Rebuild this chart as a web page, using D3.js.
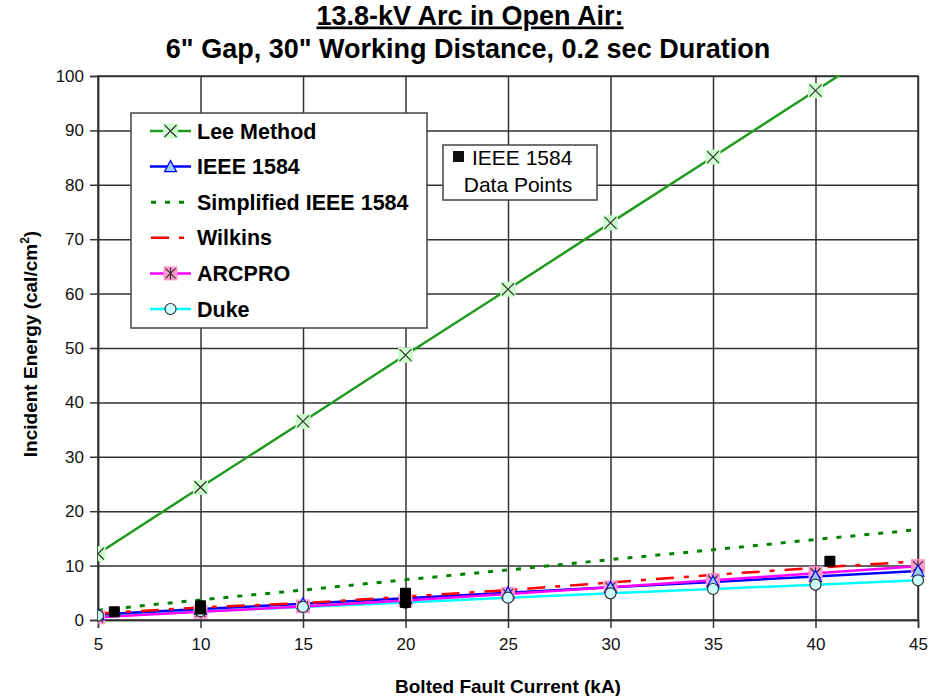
<!DOCTYPE html>
<html>
<head>
<meta charset="utf-8">
<script src="https://cdn.jsdelivr.net/npm/d3@7"></script>
<style>
  body { margin: 0; background: #fff; }
  text { font-family: Arial, "Liberation Sans", sans-serif; }
</style>
</head>
<body>
<svg></svg>
<script>
// fault current (kA)
const current = [5, 10, 15, 20, 25, 30, 35, 40, 45];

const leeMethod  = [12.2, 24.4, 36.5, 48.7, 60.8, 73.0, 85.1, 97.3, 109.5];
const ieee1584   = [1.0, 2.0, 3.0, 4.0, 5.0, 6.0, 7.0, 8.0, 9.0];
const simplified = [1.8, 3.7, 5.5, 7.4, 9.2, 11.1, 12.9, 14.8, 16.6];
const wilkins    = [1.2, 2.3, 3.1, 4.3, 5.5, 6.9, 8.3, 9.6, 10.8];
const arcpro     = [0.5, 1.5, 2.5, 3.6, 4.8, 6.0, 7.3, 8.6, 9.9];
const duke       = [0.8, 1.6, 2.4, 3.2, 4.1, 4.9, 5.7, 6.5, 7.3];

// measured data points
const pointsX = [5.8, 10.0, 10.0, 20.0, 20.0, 40.7];
const pointsY = [1.5, 2.6, 2.0, 4.9, 3.2, 10.8];

const xTicks = [5, 10, 15, 20, 25, 30, 35, 40, 45];
const yTicks = [0, 10, 20, 30, 40, 50, 60, 70, 80, 90, 100];

let width = 938;
let height = 696;
let mLeft = 98, mRight = 918, mTop = 76, mBottom = 620;

let svg = d3.select('svg').attr('width', width).attr('height', height);

let xScale = d3.scaleLinear().domain([5, 45]).range([mLeft, mRight]);
let yScale = d3.scaleLinear().domain([0, 100]).range([mBottom, mTop]);

const grid = '#333';
const narrow = '"Liberation Sans Narrow", "Arial Narrow", Arial, sans-serif';

// title
svg.append('text')
    .attr('x', 470).attr('y', 24.5)
    .attr('text-anchor', 'middle')
    .style('font-size', '27px').style('font-weight', 'bold')
    .style('font-family', narrow)
    .attr('text-decoration', 'underline')
    .text('13.8-kV Arc in Open Air:');
svg.append('text')
    .attr('x', 468).attr('y', 57.5)
    .attr('text-anchor', 'middle')
    .style('font-size', '27px').style('font-weight', 'bold')
    .style('font-family', narrow)
    .text('6" Gap, 30" Working Distance, 0.2 sec Duration');

// gridlines
svg.append('g')
    .attr('transform', 'translate(0,' + mBottom + ')')
    .call(d3.axisBottom(xScale).tickValues(xTicks).tickSize(-(mBottom - mTop)).tickFormat(''))
    .call(g => g.select('.domain').remove())
    .call(g => g.selectAll('line').attr('stroke', grid).attr('stroke-width', 1.5));
svg.append('g')
    .attr('transform', 'translate(' + mLeft + ',0)')
    .call(d3.axisLeft(yScale).tickValues(yTicks).tickSize(-(mRight - mLeft)).tickFormat(''))
    .call(g => g.select('.domain').remove())
    .call(g => g.selectAll('line').attr('stroke', grid).attr('stroke-width', 1.5));

// axes
let xAxis = svg.append('g')
    .attr('transform', 'translate(0,' + mBottom + ')')
    .call(d3.axisBottom(xScale).tickValues(xTicks).tickSize(8).tickPadding(10));
let yAxis = svg.append('g')
    .attr('transform', 'translate(' + mLeft + ',0)')
    .call(d3.axisLeft(yScale).tickValues(yTicks).tickSize(8).tickPadding(6));
[xAxis, yAxis].forEach(a => {
    a.selectAll('line').attr('stroke', grid).attr('stroke-width', 1.5);
    a.select('.domain').attr('stroke', grid).attr('stroke-width', 1.5);
    a.selectAll('text').style('font-size', '17px').attr('fill', '#111')
        .style('font-family', 'Arial, "Liberation Sans", sans-serif');
});
svg.append('rect')
    .attr('x', mLeft).attr('y', mTop)
    .attr('width', mRight - mLeft).attr('height', mBottom - mTop)
    .attr('fill', 'none').attr('stroke', grid).attr('stroke-width', 1.5);

// axis titles
svg.append('text')
    .attr('x', 508).attr('y', 693)
    .attr('text-anchor', 'middle')
    .style('font-size', '19px').style('font-weight', 'bold')
    .text('Bolted Fault Current (kA)');
let yt = svg.append('text')
    .attr('transform', 'translate(37,' + 344 + ') rotate(-90)')
    .attr('text-anchor', 'middle')
    .style('font-size', '19px').style('font-weight', 'bold');
yt.append('tspan').text('Incident Energy (cal/cm');
yt.append('tspan').attr('dy', -8).style('font-size', '12px').text('2');
yt.append('tspan').attr('dy', 8).text(')');

// clip
svg.append('clipPath').attr('id', 'clip')
    .append('rect').attr('x', mLeft).attr('y', mTop - 1)
    .attr('width', mRight - mLeft + 12).attr('height', mBottom - mTop + 12);

let plot = svg.append('g').attr('clip-path', 'url(#clip)');

const line = d3.line()
    .x((d, i) => xScale(current[i]))
    .y(d => yScale(d));

const series = [
    { name: 'Duke', values: duke, color: '#00ffff', width: 2.5, dash: null, marker: 'circle' },
    { name: 'IEEE 1584', values: ieee1584, color: '#0000ff', width: 2.5, dash: null, marker: 'triangle' },
    { name: 'ARCPRO', values: arcpro, color: '#ff00ff', width: 2.5, dash: null, marker: 'star' },
    { name: 'Wilkins', values: wilkins, color: '#ff0000', width: 2.5, dash: '18,10,5,10', marker: null },
    { name: 'Simplified IEEE 1584', values: simplified, color: '#008000', width: 3, dash: '5,9', marker: null },
    { name: 'Lee Method', values: leeMethod, color: '#1f9a1f', width: 2.5, dash: null, marker: 'x' }
];

const drawMarker = (g, type, cx, cy) => {
    if (type === 'x') {
        g.append('rect').attr('x', cx - 7.5).attr('y', cy - 7.5).attr('width', 15).attr('height', 15)
            .attr('fill', '#ccffcc');
        g.append('path').attr('d', `M${cx-6},${cy-6}L${cx+6},${cy+6}M${cx-6},${cy+6}L${cx+6},${cy-6}`)
            .attr('stroke', '#333').attr('stroke-width', 1.2);
    } else if (type === 'triangle') {
        g.append('path').attr('d', `M${cx},${cy-6}L${cx+6},${cy+5}L${cx-6},${cy+5}Z`)
            .attr('fill', '#99ccff').attr('stroke', '#0000ff').attr('stroke-width', 1.2);
    } else if (type === 'star') {
        g.append('rect').attr('x', cx - 7).attr('y', cy - 7).attr('width', 14).attr('height', 14)
            .attr('fill', '#ff99cc');
        g.append('path').attr('d', `M${cx-5},${cy-5}L${cx+5},${cy+5}M${cx-5},${cy+5}L${cx+5},${cy-5}M${cx},${cy-6}L${cx},${cy+6}`)
            .attr('stroke', '#333').attr('stroke-width', 1.2);
    } else if (type === 'circle') {
        g.append('circle').attr('cx', cx).attr('cy', cy).attr('r', 5.5)
            .attr('fill', '#ccffff').attr('stroke', '#333').attr('stroke-width', 1.2);
    }
};

series.forEach(s => {
    let p = plot.append('path')
        .datum(s.values)
        .attr('d', line)
        .attr('fill', 'none')
        .attr('stroke', s.color)
        .attr('stroke-width', s.width);
    if (s.dash) p.attr('stroke-dasharray', s.dash);
});

// markers drawn after lines
['star', 'triangle', 'circle', 'x'].forEach(m => {
    let s = series.find(d => d.marker === m);
    let g = plot.append('g');
    s.values.forEach((v, i) => drawMarker(g, m, xScale(current[i]), yScale(v)));
});

// data points
plot.selectAll('rect.pt')
    .data(pointsX)
    .enter()
    .append('rect')
    .attr('class', 'pt')
    .attr('x', (d, i) => xScale(d) - 5.5)
    .attr('y', (d, i) => yScale(pointsY[i]) - 5.5)
    .attr('width', 11).attr('height', 11).attr('rx', 1)
    .attr('fill', '#000');

// legend
let legend = svg.append('g');
legend.append('rect')
    .attr('x', 131).attr('y', 113).attr('width', 296).attr('height', 215)
    .attr('fill', '#fff').attr('stroke', '#444').attr('stroke-width', 1.5);
const legendOrder = ['Lee Method', 'IEEE 1584', 'Simplified IEEE 1584', 'Wilkins', 'ARCPRO', 'Duke'];
legendOrder.forEach((name, i) => {
    let s = series.find(d => d.name === name);
    let y = 131 + i * 35.6;
    let ln = legend.append('line')
        .attr('x1', 150).attr('x2', 191).attr('y1', y).attr('y2', y)
        .attr('stroke', s.color).attr('stroke-width', s.width);
    if (name === 'Simplified IEEE 1584') ln.attr('stroke-dasharray', '5,9').attr('x1', 151);
    if (name === 'Wilkins') ln.attr('stroke-dasharray', '18,10,5,10').attr('x1', 151);
    if (s.marker) drawMarker(legend, s.marker, 170.5, y);
    legend.append('text')
        .attr('x', 197).attr('y', y + 7.5)
        .style('font-size', '21.5px').style('font-weight', 'bold')
        .text(name);
});

// data points box
svg.append('rect')
    .attr('x', 443).attr('y', 145).attr('width', 154).attr('height', 55)
    .attr('fill', '#fff').attr('stroke', '#444').attr('stroke-width', 1.5);
svg.append('rect')
    .attr('x', 453).attr('y', 151).attr('width', 11).attr('height', 11).attr('fill', '#111');
svg.append('text')
    .attr('x', 472).attr('y', 165)
    .style('font-size', '21px')
    .text('IEEE 1584');
svg.append('text')
    .attr('x', 518).attr('y', 192)
    .attr('text-anchor', 'middle')
    .style('font-size', '21px')
    .text('Data Points');
</script>
</body>
</html>
